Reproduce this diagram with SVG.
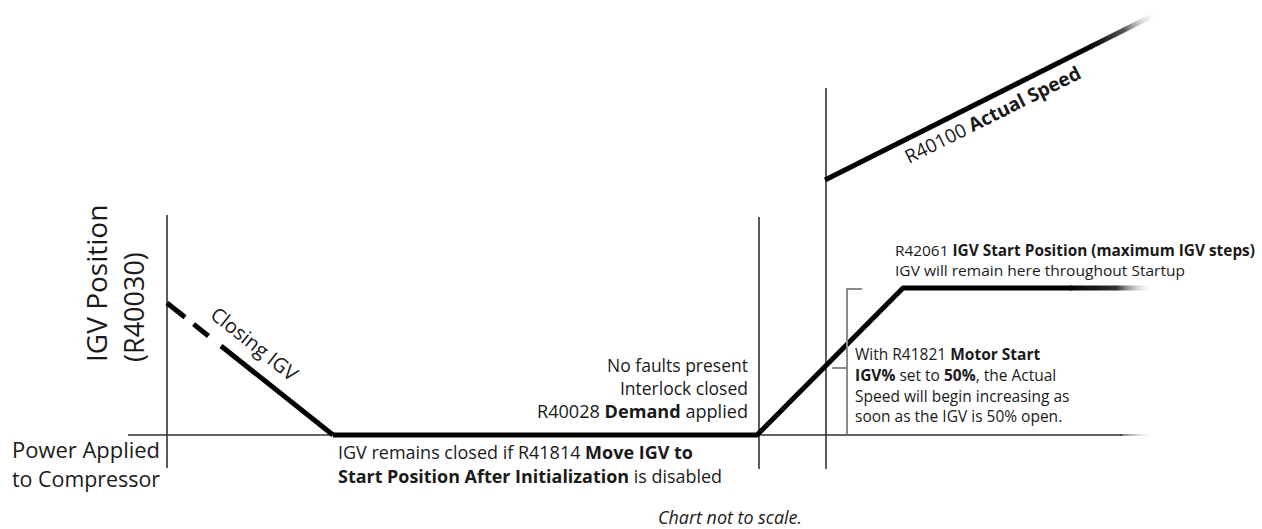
<svg xmlns="http://www.w3.org/2000/svg" width="1262" height="529" viewBox="0 0 1262 529">
  <defs>
    <style>
      text { font-family: "Open Sans", "Noto Sans", "Liberation Sans", sans-serif; fill: #1a1a1a; }
      .b { font-weight: bold; }
      .axis { stroke: #333; stroke-width: 1.6; fill: none; }
      .trace { stroke: #000; stroke-width: 5; fill: none; stroke-linejoin: round; }
      .bracket { stroke: #8c8c8c; stroke-width: 2; fill: none; }
    </style>
    <!-- fade-outs for the right-hand ends of the traces -->
    <linearGradient id="fadeH" gradientUnits="userSpaceOnUse" x1="1070" y1="0" x2="1155" y2="0">
      <stop offset="0" stop-color="#000"/>
      <stop offset="0.55" stop-color="#333"/>
      <stop offset="1" stop-color="#fff" stop-opacity="0"/>
    </linearGradient>
    <linearGradient id="fadeAxis" gradientUnits="userSpaceOnUse" x1="1120" y1="0" x2="1156" y2="0">
      <stop offset="0" stop-color="#333"/>
      <stop offset="1" stop-color="#fff" stop-opacity="0"/>
    </linearGradient>
    <linearGradient id="fadeSpeed" gradientUnits="userSpaceOnUse" x1="1090" y1="47" x2="1158" y2="13">
      <stop offset="0" stop-color="#000"/>
      <stop offset="0.5" stop-color="#555"/>
      <stop offset="1" stop-color="#fff" stop-opacity="0"/>
    </linearGradient>
  </defs>

  <rect width="1262" height="529" fill="#fff"/>

  <!-- axes and event markers -->
  <g id="axes">
    <line class="axis" x1="128" y1="435" x2="1122" y2="435"/>
    <line x1="1120" y1="435" x2="1156" y2="435" stroke="url(#fadeAxis)" stroke-width="1.6"/>
    <line class="axis" x1="167" y1="215" x2="167" y2="468"/>
    <line class="axis" x1="759" y1="217" x2="759" y2="469"/>
    <line class="axis" x1="826" y1="88" x2="826" y2="469"/>
  </g>

  <!-- IGV position and speed traces -->
  <g id="connectors">
    <path class="trace" d="M167,303 L333,435" stroke-dasharray="23 11 19 16 300" stroke-linecap="butt"/>
    <path class="trace" d="M333,435 L757,435 L903,288 L1072,288"/>
    <line x1="1070" y1="288" x2="1155" y2="288" stroke="url(#fadeH)" stroke-width="5"/>
    <line x1="825" y1="180" x2="1092" y2="46" stroke="#000" stroke-width="5"/>
    <line x1="1090" y1="47" x2="1158" y2="13" stroke="url(#fadeSpeed)" stroke-width="5"/>
    <!-- 50% bracket -->
    <path class="bracket" d="M862,289 L847,289 L847,434"/>
    <line class="bracket" x1="832" y1="368" x2="847" y2="368"/>
  </g>

  <g id="y-axis-label">
    <text transform="translate(107,362) rotate(-90)" font-size="28">IGV Position</text>
    <text transform="translate(144,362) rotate(-90)" font-size="27">(R40030)</text>
  </g>

  <g id="power-applied" font-size="21.5">
    <text x="12" y="458" textLength="148" lengthAdjust="spacingAndGlyphs">Power Applied</text>
    <text x="12" y="487" textLength="148" lengthAdjust="spacingAndGlyphs">to Compressor</text>
  </g>

  <g id="closing-igv">
    <text transform="translate(209,317) rotate(38.5)" font-size="20">Closing IGV</text>
  </g>

  <g id="remains-closed" font-size="17.5">
    <text x="338" y="459" textLength="355" lengthAdjust="spacingAndGlyphs">IGV remains closed if R41814 <tspan class="b">Move IGV to</tspan></text>
    <text x="338" y="483" textLength="384" lengthAdjust="spacingAndGlyphs"><tspan class="b">Start Position After Initialization</tspan> is disabled</text>
  </g>

  <g id="start-conditions" text-anchor="end" font-size="17.5">
    <text x="748" y="372">No faults present</text>
    <text x="748" y="395">Interlock closed</text>
    <text x="748" y="418" textLength="211" lengthAdjust="spacingAndGlyphs">R40028 <tspan class="b">Demand</tspan> applied</text>
  </g>

  <g id="start-position" font-size="15.2">
    <text x="895" y="256" textLength="360" lengthAdjust="spacingAndGlyphs">R42061 <tspan class="b">IGV Start Position (maximum IGV steps)</tspan></text>
    <text x="895" y="276" textLength="290" lengthAdjust="spacingAndGlyphs">IGV will remain here throughout Startup</text>
  </g>

  <g id="motor-start" font-size="15.5">
    <text x="855" y="360">With R41821 <tspan class="b">Motor Start</tspan></text>
    <text x="855" y="381"><tspan class="b">IGV%</tspan> set to <tspan class="b">50%</tspan>, the Actual</text>
    <text x="855" y="402">Speed will begin increasing as</text>
    <text x="855" y="422">soon as the IGV is 50% open.</text>
  </g>

  <g id="actual-speed">
    <text transform="translate(909,164) rotate(-26.5)" font-size="19">R40100 <tspan class="b">Actual Speed</tspan></text>
  </g>

  <g id="scale-note">
    <text x="658" y="524" font-size="17.5" font-style="italic" textLength="144" lengthAdjust="spacingAndGlyphs">Chart not to scale.</text>
  </g>
</svg>
